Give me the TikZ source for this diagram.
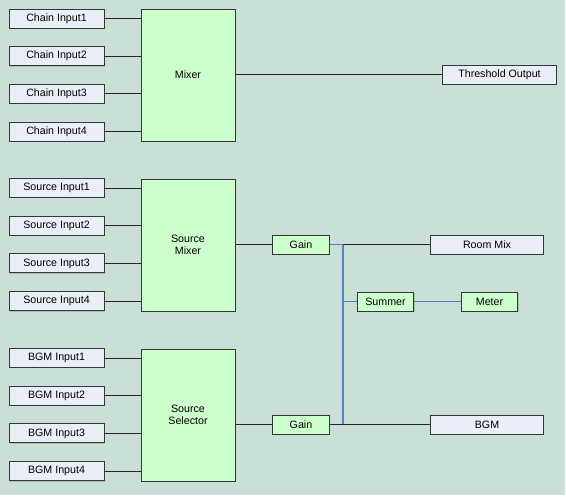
\documentclass[tikz,border=0pt]{standalone}
\usepackage{fontspec}
\setmainfont{Liberation Sans}
\usetikzlibrary{positioning,shadows}

\definecolor{bgteal}{RGB}{202,224,214}
\definecolor{inblue}{RGB}{233,238,248}
\definecolor{procgreen}{RGB}{204,255,204}
\definecolor{wireblue}{RGB}{80,132,192}
\definecolor{boxline}{RGB}{50,56,56}

\tikzset{
	io/.style={draw=boxline, line width=0.75pt, fill=inblue, minimum width=71.25pt, minimum height=14.25pt, inner sep=0pt,
		drop shadow={shadow xshift=0.5pt, shadow yshift=-0.6pt, fill=black!40, opacity=0.5}},
	outbox/.style={io, minimum width=85pt},
	proc/.style={draw=boxline, line width=0.75pt, fill=procgreen, minimum width=70.5pt, minimum height=99pt, inner sep=0pt, align=center,
		drop shadow={shadow xshift=0.5pt, shadow yshift=-0.6pt, fill=black!40, opacity=0.5}},
	small/.style={proc, minimum width=42.5pt, minimum height=14.25pt},
	wire/.style={draw=black!85, line width=0.75pt},
	bluewire/.style={draw=wireblue, line width=0.9pt}
}

\begin{document}
\begin{tikzpicture}[x=0.75pt, y=-0.75pt, node distance=28.3pt, on grid, font=\fontsize{8}{9.4}\selectfont]
	\fill[bgteal] (0,0) rectangle (565,495);
	\useasboundingbox (0,0) rectangle (566,496);

	% chain section
	\node[io] (c1) at (56.5,18.5) {Chain Input1};
	\node[io] (c2) [below=of c1] {Chain Input2};
	\node[io] (c3) [below=of c2] {Chain Input3};
	\node[io] (c4) [below=of c3] {Chain Input4};
	\node[proc] (mix) at (188,75) {Mixer};
	\node[outbox] (thr) at (499.5,74.5) {Threshold Output};

	% source section
	\node[io] (s1) at (56.5,188) {Source Input1};
	\node[io] (s2) [below=of s1] {Source Input2};
	\node[io] (s3) [below=of s2] {Source Input3};
	\node[io] (s4) [below=of s3] {Source Input4};
	\node[proc] (smix) at (188,245) {Source\\Mixer};
	\node[small] (g1) at (301,244.5) {Gain};
	\node[outbox] (room) at (487,245) {Room Mix};
	\node[small] (sum) at (385.5,301.5) {Summer};
	\node[small] (met) at (489.5,301.5) {Meter};

	% bgm section
	\node[io] (b1) at (56.5,358) {BGM Input1};
	\node[io] (b2) [below=of b1] {BGM Input2};
	\node[io] (b3) [below=of b2] {BGM Input3};
	\node[io] (b4) [below=of b3] {BGM Input4};
	\node[proc] (ssel) at (188,415) {Source\\Selector};
	\node[small] (g2) at (301,424.5) {Gain};
	\node[outbox] (bgm) at (487,424.5) {BGM};

	\coordinate (j1) at (343,244.5);
	\coordinate (j2) at (343,424.5);

	\foreach \i in {1,...,4} {
		\draw[wire] (c\i.east) -- (c\i.east -| mix.west);
		\draw[wire] (s\i.east) -- (s\i.east -| smix.west);
		\draw[wire] (b\i.east) -- (b\i.east -| ssel.west);
	}
	\draw[wire] (mix.east |- thr) -- (thr.west);
	\draw[wire] (smix.east |- g1) -- (g1.west);
	\draw[wire] (ssel.east |- g2) -- (g2.west);
	\draw[bluewire] (g1.east) -- (j1);
	\draw[wire] (j1) -- (j1 -| room.west);
	\draw[bluewire] (j1) -- (j2);
	\draw[bluewire] (j1 |- sum) -- (sum.west);
	\draw[bluewire] (sum.east) -- (met.west);
	\draw[wire] (g2.east) -- (bgm.west);
\end{tikzpicture}
\end{document}
